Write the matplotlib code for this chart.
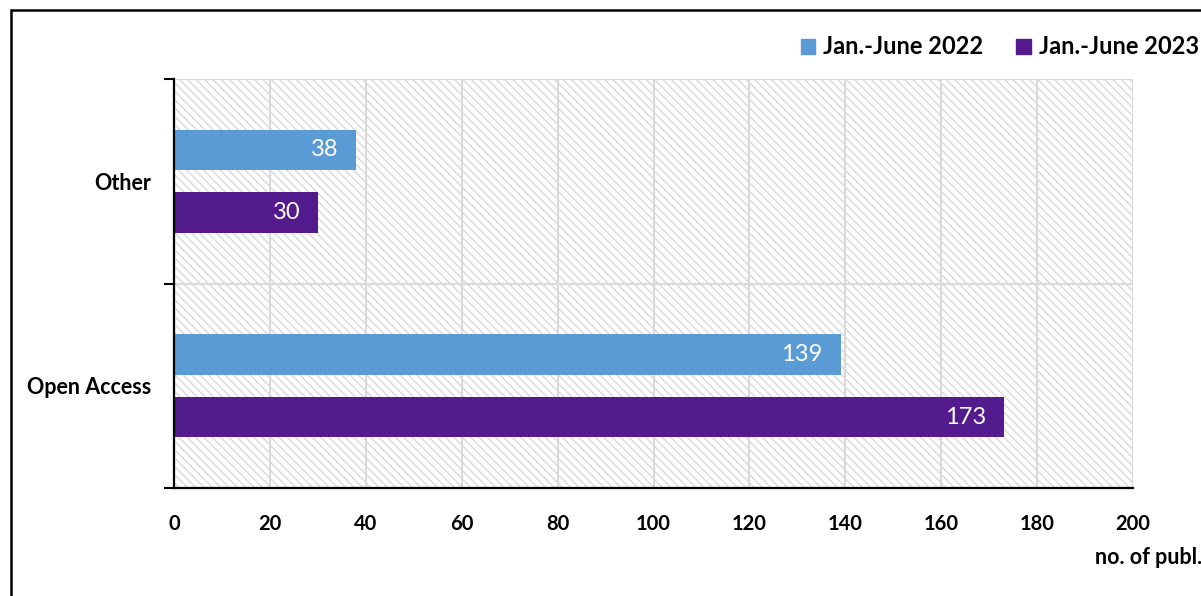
import matplotlib
matplotlib.use("Agg")
import matplotlib.pyplot as plt
from matplotlib.patches import Rectangle, Patch
import numpy as np

categories = ["Open Access", "Other"]
series_names = ["Jan.-June 2022", "Jan.-June 2023"]
values_2022 = [139, 38]
values_2023 = [173, 30]
x_ticks = [0, 20, 40, 60, 80, 100, 120, 140, 160, 180, 200]
colors = ["#5B9BD5", "#531B8D"]

FONT = "Lato"
plt.rcParams["font.family"] = [FONT, "DejaVu Sans"]

W, H = 1201, 596
fig = plt.figure(figsize=(W / 100, H / 100), dpi=100)
ax = fig.add_axes([174 / W, 1 - 488 / H, (1133 - 174) / W, (488 - 79) / H])

# hatched background
bg = Rectangle((0, 0), 1, 1, transform=ax.transAxes, fill=False,
               edgecolor="#d9d9d9", hatch="\\\\\\\\", lw=0, zorder=0)
ax.add_patch(bg)

y = np.arange(len(categories)) + 0.5
off = 0.153
h = 0.2
b1 = ax.barh(y + off, values_2022, height=h, color=colors[0], zorder=3, label=series_names[0])
b2 = ax.barh(y - off, values_2023, height=h, color=colors[1], zorder=3, label=series_names[1])

for bars, vals in ((b1, values_2022), (b2, values_2023)):
    for rect, v in zip(bars, vals):
        ax.text(rect.get_width() - 3.7, rect.get_y() + rect.get_height() / 2, str(v),
                ha="right", va="center", color="white", fontsize=17, zorder=4)

ax.set_xlim(0, 200)
ax.set_ylim(0, 2)
ax.set_xticks(x_ticks)
ax.set_xticklabels([str(t) for t in x_ticks], fontsize=14.5, fontweight="bold")
ax.tick_params(axis="x", length=0, pad=19)
ax.set_yticks([0, 1, 2])
ax.set_yticklabels([])
ax.tick_params(axis="y", which="major", length=7, width=1.5, direction="out")
ax.set_yticks(y, minor=True)
ax.set_yticklabels(categories, minor=True, fontsize=15.5, fontweight="bold")
ax.tick_params(axis="y", which="minor", length=0, pad=16.5)

ax.grid(True, color="#d9d9d9", lw=1.6, zorder=1)
ax.set_axisbelow(True)
for s in ("top", "right"):
    ax.spines[s].set_visible(False)
for s in ("left", "bottom"):
    ax.spines[s].set_linewidth(1.6)
    ax.spines[s].set_color("black")
    ax.spines[s].set_zorder(5)

handles = [Patch(color=colors[0]), Patch(color=colors[1])]
fig.legend(handles, series_names, loc="center right", bbox_to_anchor=(1199 / W, 1 - 47 / H),
           ncol=2, frameon=False, prop={"size": 17, "weight": "bold"},
           handlelength=0.6, handleheight=0.6, handletextpad=0.35, columnspacing=1.4,
           borderaxespad=0, borderpad=0)

fig.text(1202 / W, 1 - 557 / H, "no. of publ.", ha="right", va="center",
         fontsize=15.5, fontweight="bold")

top = 1 - 10 / H
frame = Rectangle((11 / W, -0.2), 1.5, top + 0.2, transform=fig.transFigure,
                  fill=False, edgecolor="black", lw=1.8)
fig.patches.append(frame)

fig.savefig("out.png", dpi=100)
